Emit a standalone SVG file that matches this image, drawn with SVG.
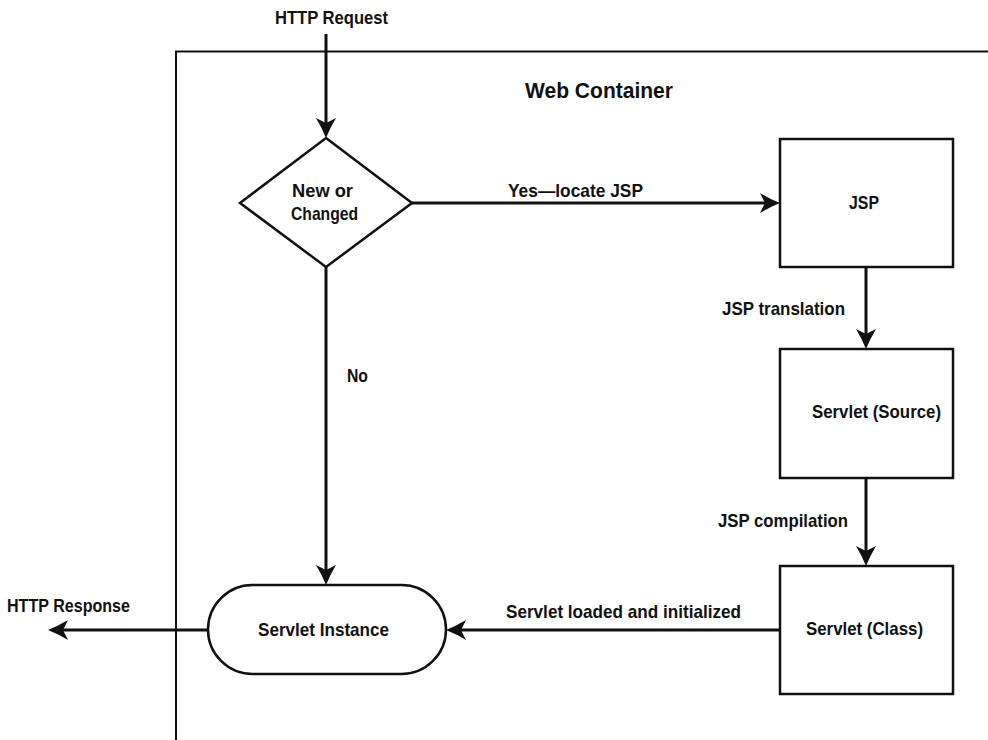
<svg xmlns="http://www.w3.org/2000/svg" width="988" height="740" viewBox="0 0 988 740">
<style>
text{font-family:"Liberation Sans",Arial,sans-serif;font-weight:bold;font-size:18.5px;fill:#111;text-anchor:middle}
.shape{fill:#fff;stroke:#111;stroke-width:2.5}
.conn{fill:none;stroke:#111;stroke-width:3}
.frame{fill:none;stroke:#111;stroke-width:2}
.title{font-size:22.5px}
</style>
<defs>
<marker id="arr" markerUnits="userSpaceOnUse" markerWidth="22" markerHeight="22" viewBox="0 0 22 22" refX="6" refY="11" orient="auto">
<path d="M21,11 Q11,7 1,1 L6,11 L1,21 Q11,15 21,11 Z" fill="#111"/>
</marker>
</defs>
<rect width="988" height="740" fill="#fff"/>
<g id="container">
<path class="frame" d="M176,740 V51.5 H988"/>
<text class="title" x="599" y="98" textLength="148" lengthAdjust="spacingAndGlyphs">Web Container</text>
</g>
<g id="connectors">
<path class="conn" d="M326,34 V123" marker-end="url(#arr)"/>
<path class="conn" d="M412,203 H765" marker-end="url(#arr)"/>
<path class="conn" d="M866,267 V334" marker-end="url(#arr)"/>
<path class="conn" d="M866,478 V551" marker-end="url(#arr)"/>
<path class="conn" d="M780,630 H461" marker-end="url(#arr)"/>
<path class="conn" d="M326,267 V570" marker-end="url(#arr)"/>
<path class="conn" d="M208,630 H63" marker-end="url(#arr)"/>
<text x="575.5" y="197" textLength="135" lengthAdjust="spacingAndGlyphs">Yes—locate JSP</text>
<text x="783.5" y="315" textLength="123" lengthAdjust="spacingAndGlyphs">JSP translation</text>
<text x="783" y="527" textLength="130" lengthAdjust="spacingAndGlyphs">JSP compilation</text>
<text x="623.5" y="618" textLength="235" lengthAdjust="spacingAndGlyphs">Servlet loaded and initialized</text>
<text x="357.5" y="382" textLength="21" lengthAdjust="spacingAndGlyphs">No</text>
<text x="331.5" y="24" textLength="113" lengthAdjust="spacingAndGlyphs">HTTP Request</text>
<text x="68.5" y="612" textLength="123" lengthAdjust="spacingAndGlyphs">HTTP Response</text>
</g>
<g id="decision">
<polygon class="shape" points="326,138 412,203 326,267 240,203"/>
<text x="322.5" y="197" textLength="61" lengthAdjust="spacingAndGlyphs">New or</text>
<text x="324.5" y="220" textLength="67" lengthAdjust="spacingAndGlyphs">Changed</text>
</g>
<g id="jsp">
<rect class="shape" x="780" y="139" width="173" height="128"/>
<text x="864" y="209" textLength="30" lengthAdjust="spacingAndGlyphs">JSP</text>
</g>
<g id="servlet-source">
<rect class="shape" x="780" y="349" width="173" height="129"/>
<text x="876.5" y="418" textLength="129" lengthAdjust="spacingAndGlyphs">Servlet (Source)</text>
</g>
<g id="servlet-class">
<rect class="shape" x="780" y="566" width="173" height="128"/>
<text x="864.5" y="635" textLength="117" lengthAdjust="spacingAndGlyphs">Servlet (Class)</text>
</g>
<g id="servlet-instance">
<rect class="shape" x="208" y="585" width="238" height="89" rx="44.5" ry="44.5"/>
<text x="323.5" y="636" textLength="131" lengthAdjust="spacingAndGlyphs">Servlet Instance</text>
</g>
</svg>
